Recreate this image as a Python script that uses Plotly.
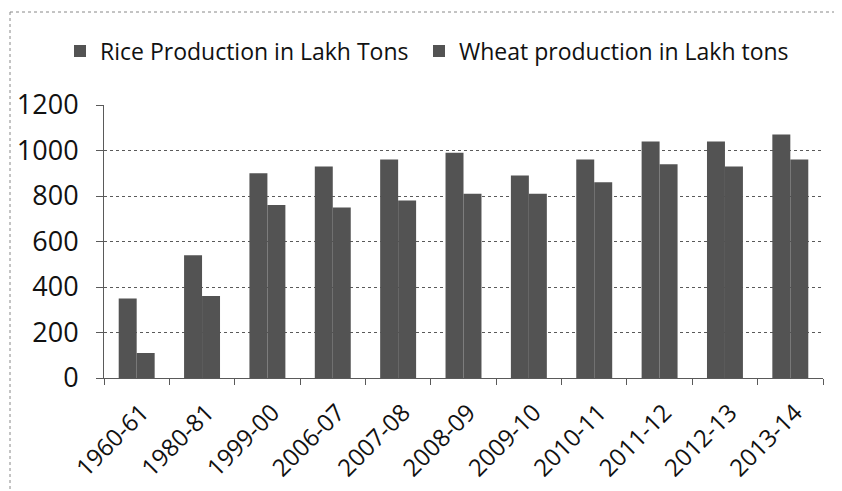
import plotly.graph_objs as go

years = ['1960-61', '1980-81', '1999-00', '2006-07', '2007-08', '2008-09',
         '2009-10', '2010-11', '2011-12', '2012-13', '2013-14']
rice = [350, 540, 900, 930, 960, 990, 890, 960, 1040, 1040, 1070]
wheat = [110, 360, 760, 750, 780, 810, 810, 860, 940, 930, 960]

bar_color = '#535353'
grid_color = '#5a5a5a'
font_family = 'Open Sans, Lato, sans-serif'

# page body has an 8px margin, so the figure is a bit smaller than the window
W, H = 834, 483
L, R, T, B = 96, 19, 97, 113
pw, ph = W - L - R, H - T - B

fig = go.Figure()
fig.add_trace(go.Bar(x=years, y=rice, name='Rice Production in Lakh Tons',
                     marker=dict(color=bar_color, line=dict(width=0)),
                     legend='legend'))
fig.add_trace(go.Bar(x=years, y=wheat, name='Wheat production in Lakh tons',
                     marker=dict(color=bar_color, line=dict(width=0)),
                     legend='legend2'))

legend_style = dict(orientation='h', xref='container', xanchor='left',
                    yref='container', y=1 - 43 / H, yanchor='middle',
                    font=dict(size=23), itemwidth=30,
                    bgcolor='rgba(0,0,0,0)')

fig.update_layout(
    width=W, height=H,
    margin=dict(l=L, r=R, t=T, b=B, autoexpand=False),
    paper_bgcolor='white', plot_bgcolor='white',
    barmode='group', bargap=0.45, bargroupgap=0,
    font=dict(family=font_family, color='#111111'),
    showlegend=True,
    legend=dict(x=52 / W, **legend_style),
    legend2=dict(x=411 / W, **legend_style),
)

fig.update_yaxes(range=[0, 1200], dtick=200, showgrid=True,
                 gridcolor=grid_color, griddash='dot', gridwidth=1,
                 showline=True, linecolor=grid_color, linewidth=1,
                 ticks='outside', ticklen=7, tickcolor=grid_color,
                 tickfont=dict(size=27), ticklabelstandoff=12,
                 zeroline=False, automargin=False)
fig.update_xaxes(type='category', showline=True, linecolor=grid_color, linewidth=1,
                 ticks='outside', ticklen=6, tickcolor=grid_color,
                 tickson='boundaries', tickangle=-45,
                 tickfont=dict(size=24), ticklabelstandoff=10, ticklabelshift=5,
                 showgrid=False, automargin=False)

# outer chart border (dotted, partly cropped in the scan)
top = 1 + (105 - 12) / ph
left = (10 - 104) / pw
fig.add_shape(type='line', xref='paper', yref='paper',
              x0=left, x1=(842 - 104) / pw, y0=top, y1=top,
              line=dict(color='#888888', width=1, dash='dot'))
fig.add_shape(type='line', xref='paper', yref='paper',
              x0=left, x1=left, y0=top, y1=(378 - 491) / ph,
              line=dict(color='#888888', width=1, dash='dot'))

fig.write_html("out.html")
